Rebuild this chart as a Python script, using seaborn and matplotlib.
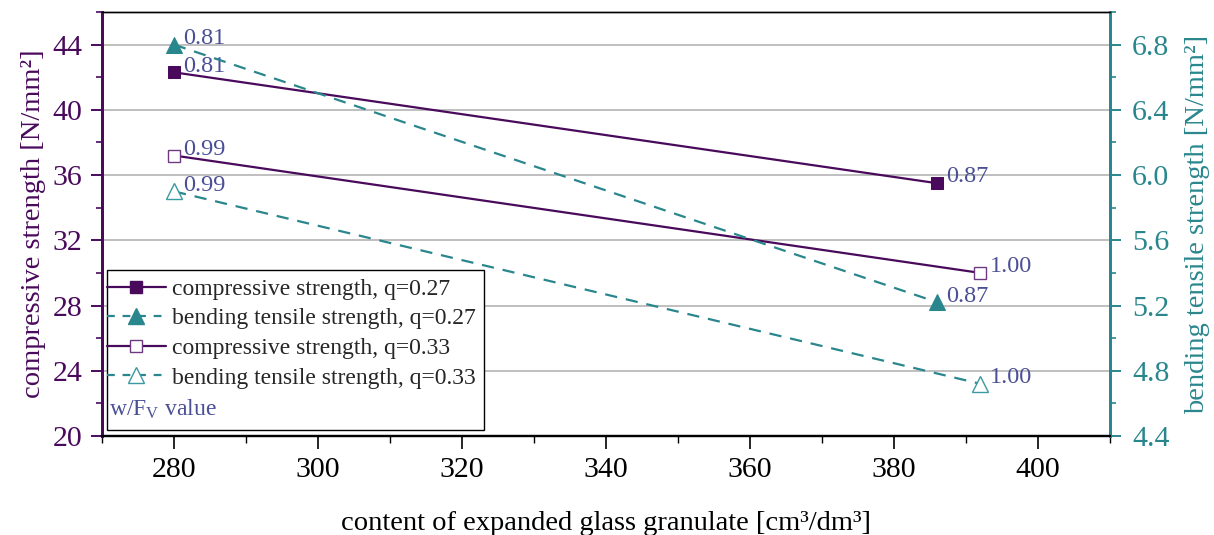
import numpy as np
import pandas as pd
import matplotlib
matplotlib.use("Agg")
import matplotlib.pyplot as plt
from matplotlib.lines import Line2D
from matplotlib.patches import Rectangle
from matplotlib.ticker import MultipleLocator, FormatStrFormatter
import seaborn as sns

# --- data -------------------------------------------------------------
content_q027 = [280, 386]          # cm³/dm³
content_q033 = [280, 392]
compressive_q027 = [42.3, 35.5]    # N/mm²
compressive_q033 = [37.2, 30.0]
bending_q027 = [6.80, 5.22]        # N/mm²
bending_q033 = [5.90, 4.72]
wf_q027 = ["0.81", "0.87"]         # w/F_V values
wf_q033 = ["0.99", "1.00"]

series_labels = [
    "compressive strength, q=0.27",
    "bending tensile strength, q=0.27",
    "compressive strength, q=0.33",
    "bending tensile strength, q=0.33",
]

# --- style ------------------------------------------------------------
sns.set_theme(style="white")
plt.rcParams["font.family"] = ["Liberation Serif", "DejaVu Serif"]
plt.rcParams["mathtext.fontset"] = "custom"
plt.rcParams["mathtext.rm"] = "Liberation Serif"
plt.rcParams["mathtext.it"] = "Liberation Serif:italic"

PURPLE = "#4a0a5c"
PURPLE_LIGHT = "#6d3a80"
TEAL = "#2a868d"
TEAL_LIGHT = "#3a9aa0"
NOTE = "#4a4f96"
GRID = "#b4b4b4"
DASH = (0, (5.5, 4.0))

fig = plt.figure(figsize=(12.14, 5.35), dpi=100)
ax = fig.add_axes([102 / 1214, 99 / 535, 1008 / 1214, 424 / 535])
ax2 = ax.twinx()

# --- compressive strength (left axis) ---------------------------------
df_c027 = pd.DataFrame({"x": content_q027, "y": compressive_q027})
df_c033 = pd.DataFrame({"x": content_q033, "y": compressive_q033})
sns.lineplot(data=df_c027, x="x", y="y", ax=ax, color=PURPLE, lw=1.6,
             marker="s", markersize=8.5, markerfacecolor=PURPLE,
             markeredgecolor=PURPLE, zorder=3)
sns.lineplot(data=df_c033, x="x", y="y", ax=ax, color=PURPLE, lw=1.6,
             marker="s", markersize=8.5, markerfacecolor="white",
             markeredgecolor=PURPLE_LIGHT, markeredgewidth=1.0, zorder=3)

# --- bending tensile strength (right axis) ----------------------------
df_b027 = pd.DataFrame({"x": content_q027, "y": bending_q027})
df_b033 = pd.DataFrame({"x": content_q033, "y": bending_q033})
sns.lineplot(data=df_b027, x="x", y="y", ax=ax2, color=TEAL, lw=1.6,
             marker="^", markersize=11, markerfacecolor=TEAL,
             markeredgecolor=TEAL, zorder=3)
ax2.lines[-1].set_linestyle(DASH)
sns.lineplot(data=df_b033, x="x", y="y", ax=ax2, color=TEAL, lw=1.6,
             marker="^", markersize=11, markerfacecolor="white",
             markeredgecolor=TEAL_LIGHT, markeredgewidth=1.0, zorder=3)
ax2.lines[-1].set_linestyle(DASH)

# --- w/F_V annotations ------------------------------------------------
def annotate(axis, xs, ys, texts):
    for x, y, t in zip(xs, ys, texts):
        axis.annotate(t, (x, y), xytext=(6.5, 4.5), textcoords="offset points",
                      ha="left", va="center", fontsize=17.5, color=NOTE,
                      zorder=5)

annotate(ax, content_q027, compressive_q027, wf_q027)
annotate(ax, content_q033, compressive_q033, wf_q033)
annotate(ax2, content_q027, bending_q027, wf_q027)
annotate(ax2, content_q033, bending_q033, wf_q033)

# --- axes, ticks, grid ------------------------------------------------
ax.set_xlim(270, 410)
ax.set_ylim(20, 46)
ax2.set_ylim(4.4, 7.0)

ax.xaxis.set_major_locator(MultipleLocator(20))
ax.xaxis.set_minor_locator(MultipleLocator(10))
ax.yaxis.set_major_locator(MultipleLocator(4))
ax.yaxis.set_minor_locator(MultipleLocator(2))
ax2.yaxis.set_major_locator(MultipleLocator(0.4))
ax2.yaxis.set_minor_locator(MultipleLocator(0.2))
ax2.yaxis.set_major_formatter(FormatStrFormatter("%.1f"))

ax.set_axisbelow(True)
ax.grid(axis="y", which="major", color=GRID, lw=1.2)
ax.grid(axis="x", visible=False)
ax2.grid(False)

ax.tick_params(axis="x", which="major", direction="out", length=9, width=1.2,
               color="black", labelsize=21.5, labelcolor="black", pad=6,
               bottom=True)
ax.tick_params(axis="x", which="minor", direction="out", length=5, width=1.0,
               color="black", bottom=True)
ax.tick_params(axis="y", which="major", direction="out", length=8, width=1.4,
               color=PURPLE, labelsize=21.5, labelcolor=PURPLE, pad=6, left=True)
ax.tick_params(axis="y", which="minor", direction="out", length=4, width=1.2,
               color=PURPLE, left=True)
ax2.tick_params(axis="y", which="major", direction="out", length=8, width=1.4,
                color=TEAL, labelsize=21.5, labelcolor=TEAL, pad=8, right=True)
ax2.tick_params(axis="y", which="minor", direction="out", length=4, width=1.2,
                color=TEAL, right=True)

for a in (ax, ax2):
    a.spines["top"].set_color("black")
    a.spines["top"].set_linewidth(1.0)
    a.spines["bottom"].set_color("black")
    a.spines["bottom"].set_linewidth(1.6)
    a.spines["left"].set_color(PURPLE)
    a.spines["left"].set_linewidth(2.0)
    a.spines["right"].set_color(TEAL)
    a.spines["right"].set_linewidth(2.0)

ax.set_xlabel("content of expanded glass granulate [cm³/dm³]", fontsize=20.5,
              color="black", labelpad=20)
ax.set_ylabel("compressive strength [N/mm²]", fontsize=20.5, color=PURPLE,
              labelpad=5)
ax2.set_ylabel("bending tensile strength [N/mm²]", fontsize=20.5, color=TEAL,
               labelpad=11)

# --- legend -----------------------------------------------------------
handles = [
    Line2D([], [], color=PURPLE, lw=1.6, marker="s", markersize=8.5,
           markerfacecolor=PURPLE, markeredgecolor=PURPLE),
    Line2D([], [], color=TEAL, lw=1.6, linestyle=(0, (3.5, 3.5)), marker="^",
           markersize=11, markerfacecolor=TEAL, markeredgecolor=TEAL),
    Line2D([], [], color=PURPLE, lw=1.6, marker="s", markersize=8.5,
           markerfacecolor="white", markeredgecolor=PURPLE_LIGHT,
           markeredgewidth=1.0),
    Line2D([], [], color=TEAL, lw=1.6, linestyle=(0, (3.5, 3.5)), marker="^",
           markersize=11, markerfacecolor="white", markeredgecolor=TEAL_LIGHT,
           markeredgewidth=1.0),
]

box = Rectangle((0.005, 0.014), 0.374, 0.378, transform=ax2.transAxes,
                facecolor="white", edgecolor="black", lw=1.0, zorder=8)
ax2.add_patch(box)
leg = ax2.legend(handles, series_labels, loc="upper left",
                 bbox_to_anchor=(0.0, 0.383), frameon=False, fontsize=17,
                 handlelength=2.5, handletextpad=0.25, labelspacing=0.34,
                 borderaxespad=0.0, borderpad=0.2)
leg.set_zorder(9)
ax2.text(0.007, 0.064, r"w/F$_\mathrm{V}$ value", transform=ax2.transAxes,
         fontsize=17, color=NOTE, ha="left", va="center", zorder=10)

fig.savefig("out.png", dpi=100)
